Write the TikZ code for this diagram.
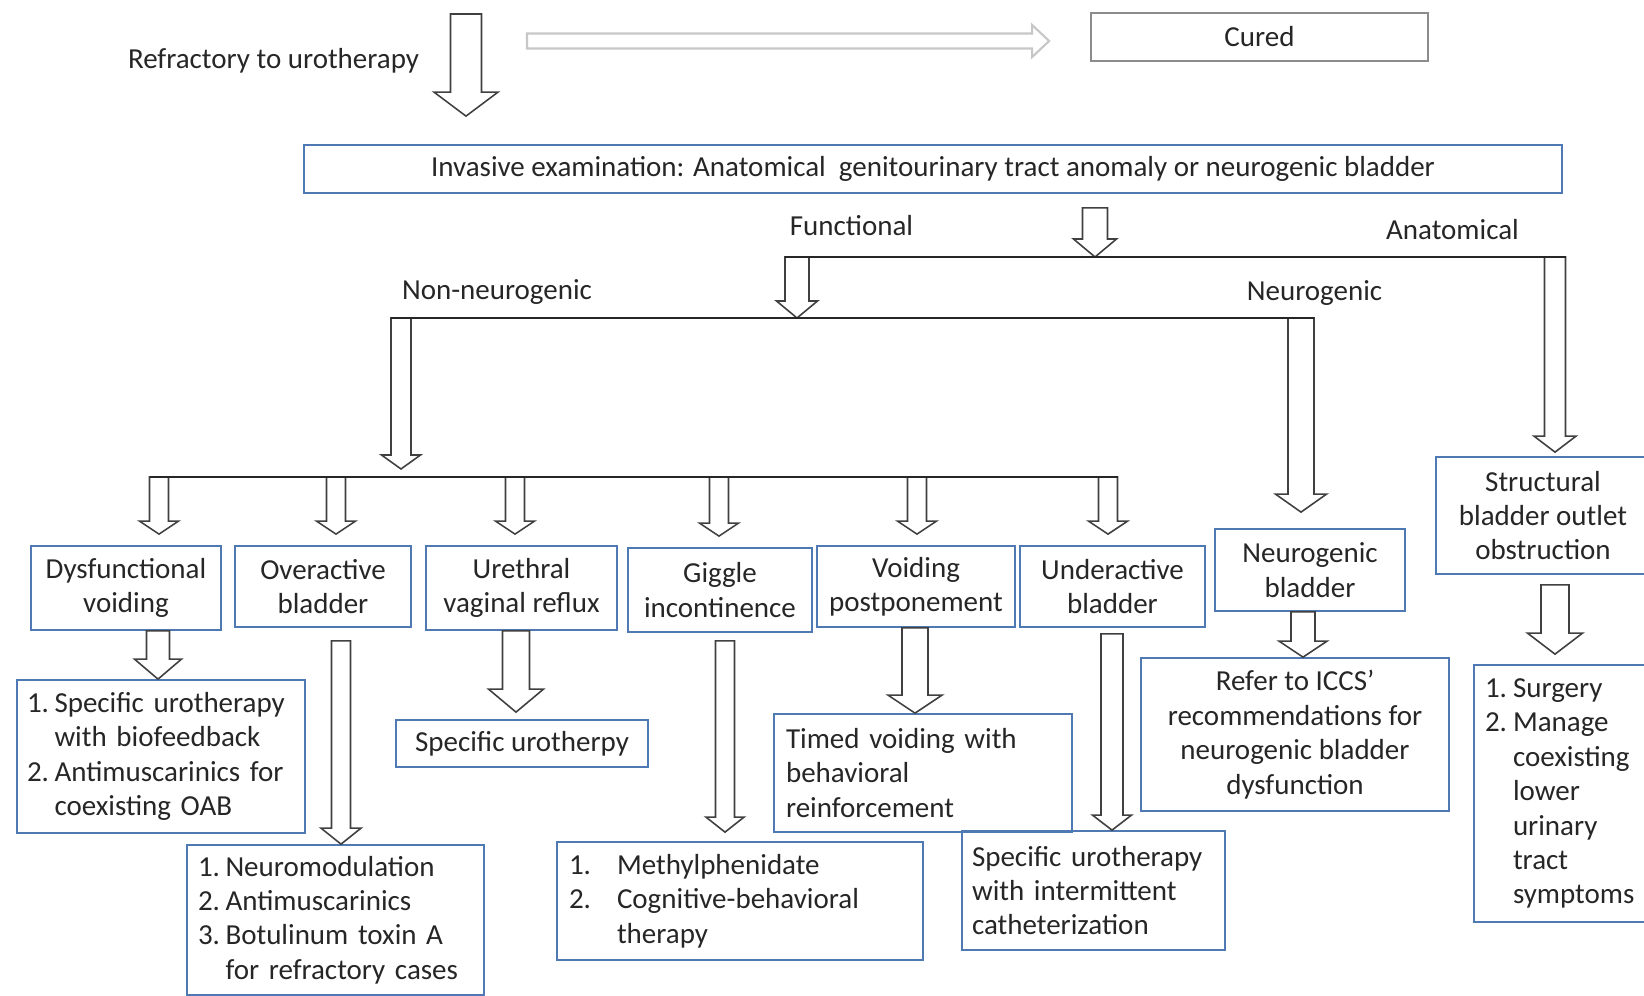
\documentclass[tikz,border=0pt]{standalone}
\usepackage{fontspec}
\setmainfont{Carlito}
\usetikzlibrary{calc}
\definecolor{boxblue}{RGB}{79,121,178}
\newcommand{\blockdown}[6][]{%
\filldraw[blk,#1] let \p1=#2, \p2=#3 in (\x1-#4*0.02cm,\y1) -- (\x1-#4*0.02cm,\y2+#6*0.02cm) -- (\x1-#5*0.02cm,\y2+#6*0.02cm) -- (\x1,\y2) -- (\x1+#5*0.02cm,\y2+#6*0.02cm) -- (\x1+#4*0.02cm,\y2+#6*0.02cm) -- (\x1+#4*0.02cm,\y1) -- cycle;}

\begin{document}
\begin{tikzpicture}[x=0.02cm,y=-0.02cm,
  every node/.style={font=\fontsize{16.5}{19.6}\selectfont, text=black!85, inner sep=0pt},
  bluebox/.style={draw=boxblue, line width=1pt, align=center},
  listbox/.style={draw=boxblue, line width=1pt, align=left},
  blk/.style={draw=black!75, fill=white, line width=0.9pt},
  hub/.style={draw=black!85, line width=1.6pt}]
\useasboundingbox (0,0) rectangle (1644,996);

\node (refr) at (273.5,61) {Refractory to urotherapy};
\node[draw=black!45, line width=1pt, minimum width=6.74cm, minimum height=0.96cm] (cured) at (1259.5,37) {Cured};
\node[bluebox, minimum width=25.16cm, minimum height=0.96cm] (inv) at (933,169) {Invasive examination: Anatomical\ \ genitourinary tract anomaly or neurogenic bladder};
\node (func) at (851.5,226) {Functional};
\node (anat) at (1452.5,230) {Anatomical};
\node (nonneuro) at (497,292) {Non-neurogenic};
\node (neuro) at (1314.5,293) {Neurogenic};

\node[bluebox, minimum width=3.8cm, minimum height=1.68cm] (dv) at (126,588) {Dysfunctional\\voiding};
\node[bluebox, minimum width=3.52cm, minimum height=1.62cm] (oab) at (323,586.5) {Overactive\\bladder};
\node[bluebox, minimum width=3.82cm, minimum height=1.68cm] (uvr) at (521.5,588) {Urethral\\vaginal reflux};
\node[bluebox, minimum width=3.68cm, minimum height=1.68cm] (gig) at (720,590) {Giggle\\incontinence};
\node[bluebox, minimum width=3.96cm, minimum height=1.62cm] (vp) at (916,586.5) {Voiding\\postponement};
\node[bluebox, minimum width=3.7cm, minimum height=1.62cm] (uab) at (1112.5,586.5) {Underactive\\bladder};
\node[bluebox, minimum width=3.8cm, minimum height=1.64cm] (nb) at (1310,570) {Neurogenic\\bladder};
\node[bluebox, minimum width=4.28cm, minimum height=2.34cm] (sboo) at (1543,515.5) {Structural\\bladder outlet\\obstruction};

\node[listbox, text width=5.36cm, inner xsep=0.2cm, minimum height=3.06cm] (bio) at (161,756.5) {\makebox[0.55cm][l]{1.}Specific urotherapy\\\hspace*{0.55cm}with biofeedback\\\makebox[0.55cm][l]{2.}Antimuscarinics for\\\hspace*{0.55cm}coexisting OAB};
\node[listbox, text width=5.5cm, inner xsep=0.22cm, minimum height=3cm] (neuromod) at (335.5,920) {\makebox[0.55cm][l]{1.}Neuromodulation\\\makebox[0.55cm][l]{2.}Antimuscarinics\\\makebox[0.55cm][l]{3.}Botulinum toxin A\\\hspace*{0.55cm}for refractory cases};
\node[bluebox, minimum width=5.04cm, minimum height=0.94cm] (spu) at (522,743.5) {Specific urotherpy};
\node[listbox, text width=6.84cm, inner xsep=0.24cm, minimum height=2.36cm] (meth) at (740,901) {\makebox[0.96cm][l]{1.}Methylphenidate\\\makebox[0.96cm][l]{2.}Cognitive-behavioral\\\hspace*{0.96cm}therapy};
\node[listbox, text width=5.48cm, inner xsep=0.24cm, minimum height=2.36cm] (tv) at (923,773) {Timed voiding with\\behavioral\\reinforcement};
\node[listbox, text width=4.86cm, inner xsep=0.2cm, minimum height=2.38cm] (cic) at (1093.5,890.5) {Specific urotherapy\\with intermittent\\catheterization};
\node[bluebox, minimum width=6.16cm, minimum height=3.06cm] (iccs) at (1295,734.5) {Refer to ICCS’\\recommendations for\\neurogenic bladder\\dysfunction};
\node[listbox, text width=3.4cm, inner xsep=0.22cm, minimum height=5.14cm] (surg) at (1570,793.5) {\makebox[0.56cm][l]{1.}Surgery\\\makebox[0.56cm][l]{2.}Manage\\\hspace*{0.56cm}coexisting\\\hspace*{0.56cm}lower\\\hspace*{0.56cm}urinary\\\hspace*{0.56cm}tract\\\hspace*{0.56cm}symptoms};

\coordinate (refrtop) at (466,14);
\coordinate (grw) at (527,41);
\coordinate (hub1) at (1095,257);
\coordinate (h1w) at (785,257);
\coordinate (h1e) at (1565.5,257);
\coordinate (h2w) at (391,318);
\coordinate (h2e) at (1314,318);
\coordinate (h3w) at (149.5,477);
\coordinate (h3e) at (1117.5,477);

\filldraw[draw=black!22, fill=white, line width=1.2pt] let \p1=(grw), \p2=($(grw -| cured.west)+(-41,0)$) in (\x1,\y1+7.5*0.02cm) -- (\x2-17*0.02cm,\y1+7.5*0.02cm) -- (\x2-17*0.02cm,\y1+16*0.02cm) -- (\x2,\y1) -- (\x2-17*0.02cm,\y1-16*0.02cm) -- (\x2-17*0.02cm,\y1-7.5*0.02cm) -- (\x1,\y1-7.5*0.02cm) -- cycle;

\blockdown{(refrtop)}{($(refrtop |- inv.north)+(0,-28)$)}{15.5}{32}{24}
\blockdown{($(hub1 |- inv.south)+(0,14)$)}{(hub1)}{12.5}{21.5}{18}
\blockdown{(797,0 |- h1w)}{(797,0 |- h2w)}{12}{20.5}{17}
\blockdown{(401,0 |- h2w)}{($(401,0 |- h3w)+(0,-8)$)}{10}{19.5}{14}
\blockdown{(1301,0 |- h2w)}{($(1301,0 |- nb.north)+(0,-16)$)}{13}{25.5}{18}
\blockdown{(1555,0 |- h1w)}{($(1555,0 |- sboo.north)+(0,-4)$)}{10.5}{21}{16}

\foreach \bn/\bx in {dv/159, oab/336, uvr/515, gig/719, vp/917, uab/1108}
  \blockdown{(\bx,0 |- h3w)}{($(\bx,0 |- \bn.north)+(0,-11)$)}{9.5}{19.5}{13};

\blockdown{(158,0 |- dv.south)}{(158,0 |- bio.north)}{11.5}{23.5}{20}
\blockdown{($(341,0 |- oab.south)+(0,13)$)}{(341,0 |- neuromod.north)}{9.5}{20}{16}
\blockdown{(516,0 |- uvr.south)}{($(516,0 |- spu.north)+(0,-7)$)}{13.5}{27.5}{23}
\blockdown{($(725,0 |- gig.south)+(0,8)$)}{($(725,0 |- meth.north)+(0,-9)$)}{9.5}{19}{15}
\blockdown{(915,0 |- vp.south)}{(915,0 |- tv.north)}{13}{27}{18}
\blockdown{($(1112,0 |- uab.south)+(0,6)$)}{(1112,0 |- cic.north)}{11}{19.5}{15}
\blockdown{(1303,0 |- nb.south)}{(1303,0 |- iccs.north)}{12}{24}{16}
\blockdown{($(1555,0 |- sboo.south)+(0,10)$)}{($(1555,0 |- surg.north)+(0,-10)$)}{14}{27.5}{21}

\draw[hub] (h1w) -- (h1e);
\draw[hub] (h2w) -- (h2e);
\draw[hub] (h3w) -- (h3e);
\end{tikzpicture}
\end{document}
